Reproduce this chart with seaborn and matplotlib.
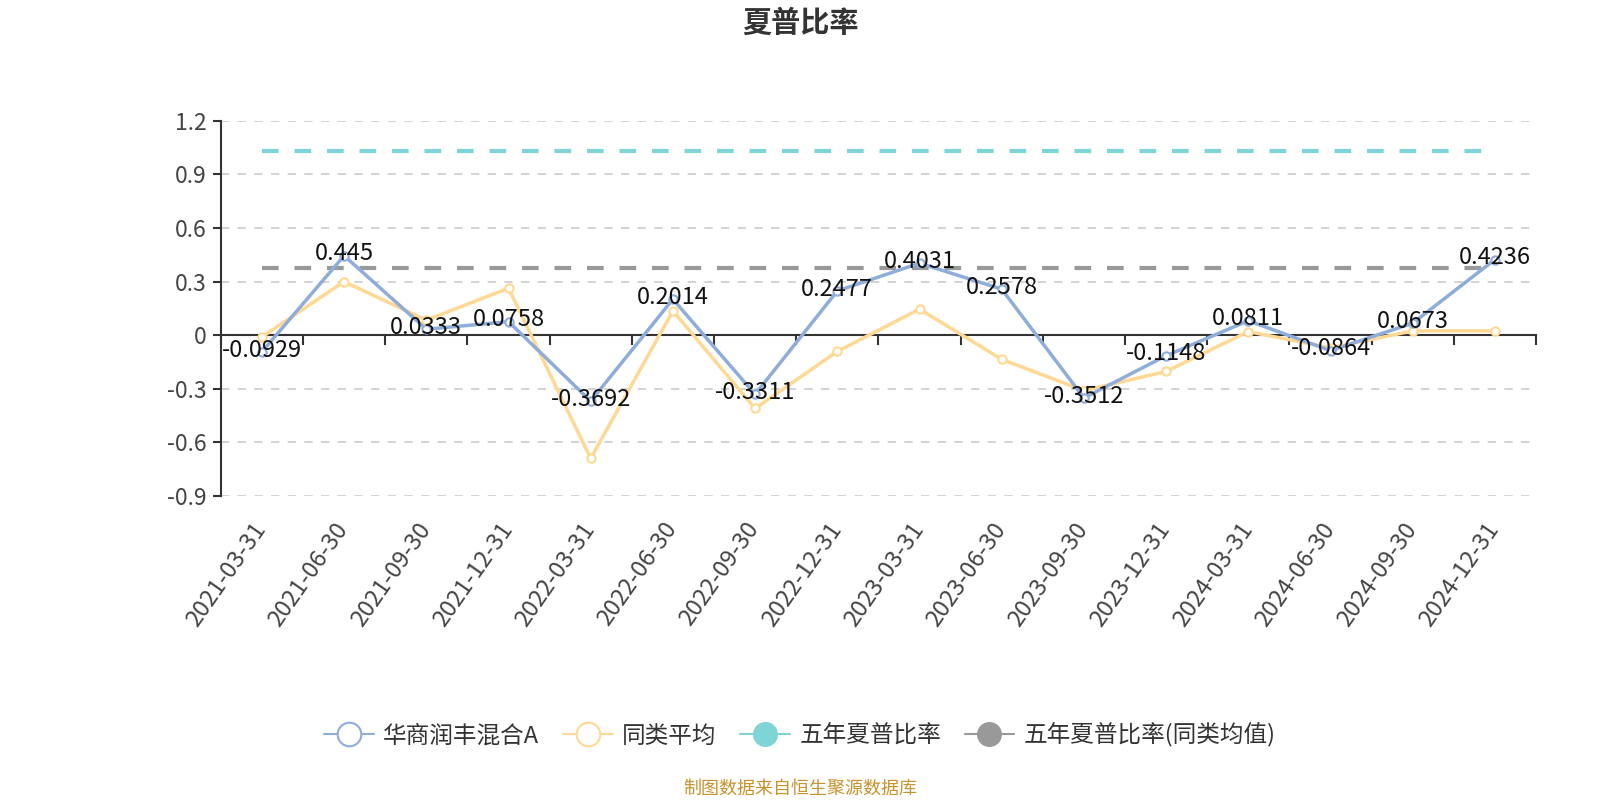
import numpy as np
import pandas as pd
import matplotlib
matplotlib.use("Agg")
import matplotlib.pyplot as plt
import matplotlib.transforms as mtransforms
from matplotlib.lines import Line2D
import seaborn as sns

dates = ["2021-03-31", "2021-06-30", "2021-09-30", "2021-12-31",
         "2022-03-31", "2022-06-30", "2022-09-30", "2022-12-31",
         "2023-03-31", "2023-06-30", "2023-09-30", "2023-12-31",
         "2024-03-31", "2024-06-30", "2024-09-30", "2024-12-31"]
fund = [-0.0929, 0.445, 0.0333, 0.0758, -0.3692, 0.2014, -0.3311, 0.2477,
        0.4031, 0.2578, -0.3512, -0.1148, 0.0811, -0.0864, 0.0673, 0.4236]
peer = [-0.01, 0.30, 0.084, 0.263, -0.69, 0.136, -0.41, -0.091,
        0.146, -0.135, -0.31, -0.203, 0.02, -0.071, 0.024, 0.024]
five_year = 1.03
five_year_peer = 0.375
yticks = [-0.9, -0.6, -0.3, 0, 0.3, 0.6, 0.9, 1.2]
ytick_labels = ["-0.9", "-0.6", "-0.3", "0", "0.3", "0.6", "0.9", "1.2"]

names = ["华商润丰混合A", "同类平均", "五年夏普比率", "五年夏普比率(同类均值)"]
colors = ["#8eaddb", "#ffd993", "#7fd4d6", "#999999"]

sns.set_theme(style="white")
plt.rcParams['font.family'] = ['Noto Sans CJK SC', 'DejaVu Sans']

fig = plt.figure(figsize=(16, 8), dpi=100)
ax = fig.add_axes([0.138, 0.38, 0.822, 0.469])

x = np.arange(len(dates))
df = pd.DataFrame({"x": x, "fund": fund, "peer": peer})

ax.set_xlim(-0.5, len(dates) - 0.5)
ax.set_ylim(-0.9, 1.2)

# grid
for yv in yticks:
    if yv != 0:
        ax.axhline(yv, color="#cccccc", lw=1.2, ls=(0, (5, 5)), zorder=0)

# five-year reference lines
ax.plot([0, len(dates) - 1], [five_year, five_year], color=colors[2], lw=3,
        ls=(0, (4, 3.8)), zorder=2)
ax.plot([0, len(dates) - 1], [five_year_peer, five_year_peer], color=colors[3], lw=3,
        ls=(0, (4, 3.8)), zorder=2)

sns.lineplot(data=df, x="x", y="peer", ax=ax, color=colors[1], lw=2.5,
             marker="o", markersize=6, markerfacecolor="white",
             markeredgecolor=colors[1], markeredgewidth=1.5, zorder=3)
sns.lineplot(data=df, x="x", y="fund", ax=ax, color=colors[0], lw=2.5,
             marker="o", markersize=6, markerfacecolor="white",
             markeredgecolor=colors[0], markeredgewidth=1.5, zorder=4)

for xi, v in zip(x, fund):
    ax.text(xi, v + 0.01, f"{v:g}", ha="center", va="center", fontsize=17,
            color="#111111", zorder=6)

# axes styling
for s in ["top", "right", "bottom"]:
    ax.spines[s].set_visible(False)
ax.spines["left"].set_color("#333333")
ax.spines["left"].set_linewidth(1.5)
ax.set_yticks(yticks)
ax.set_yticklabels(ytick_labels, fontsize=16.5, color="#444444")
ax.tick_params(axis="y", length=6, width=1.5, color="#333333", pad=4, left=True)
ax.set_xticks(x)
ax.set_xticklabels(dates, rotation=55, ha="right", rotation_mode="anchor",
                   fontsize=17, color="#444444")
ax.tick_params(axis="x", length=0, pad=16)
offset = mtransforms.ScaledTranslation(-10 / 100, 0, fig.dpi_scale_trans)
for lab in ax.get_xticklabels():
    lab.set_transform(lab.get_transform() + offset)
ax.set_xlabel("")
ax.set_ylabel("")

# zero axis with boundary ticks
zero_frac = (0 - (-0.9)) / (1.2 - (-0.9))
sec = ax.secondary_xaxis(zero_frac)
sec.set_xticks(np.arange(-0.5, len(dates), 1.0))
sec.set_xticklabels([])
sec.tick_params(axis="x", direction="out", length=7, width=1.5, color="#333333")
sec.spines["bottom"].set_color("#333333")
sec.spines["bottom"].set_linewidth(1.5)
for s in ["top", "left", "right"]:
    sec.spines[s].set_visible(False)

# title and footer
fig.text(0.5, 0.972, "夏普比率", ha="center", va="center", fontsize=21,
         fontweight="bold", color="#333333")
fig.text(0.5, 0.014, "制图数据来自恒生聚源数据库", ha="center", va="center",
         fontsize=13, color="#c8922e")

handles = [
    Line2D([0], [0], color=colors[0], lw=1.5, marker="o", markersize=17,
           markerfacecolor="white", markeredgecolor=colors[0], markeredgewidth=1.5),
    Line2D([0], [0], color=colors[1], lw=1.5, marker="o", markersize=17,
           markerfacecolor="white", markeredgecolor=colors[1], markeredgewidth=1.5),
    Line2D([0], [0], color=colors[2], lw=1.5, marker="o", markersize=17,
           markerfacecolor=colors[2], markeredgecolor=colors[2]),
    Line2D([0], [0], color=colors[3], lw=1.5, marker="o", markersize=17,
           markerfacecolor=colors[3], markeredgecolor=colors[3]),
]
fig.legend(handles, names, loc="center", bbox_to_anchor=(0.5, 0.081), ncol=4,
           frameon=False, fontsize=17, handlelength=2.1, handletextpad=0.4,
           columnspacing=1.0, labelcolor="#333333")

fig.savefig("out.png", dpi=100)
